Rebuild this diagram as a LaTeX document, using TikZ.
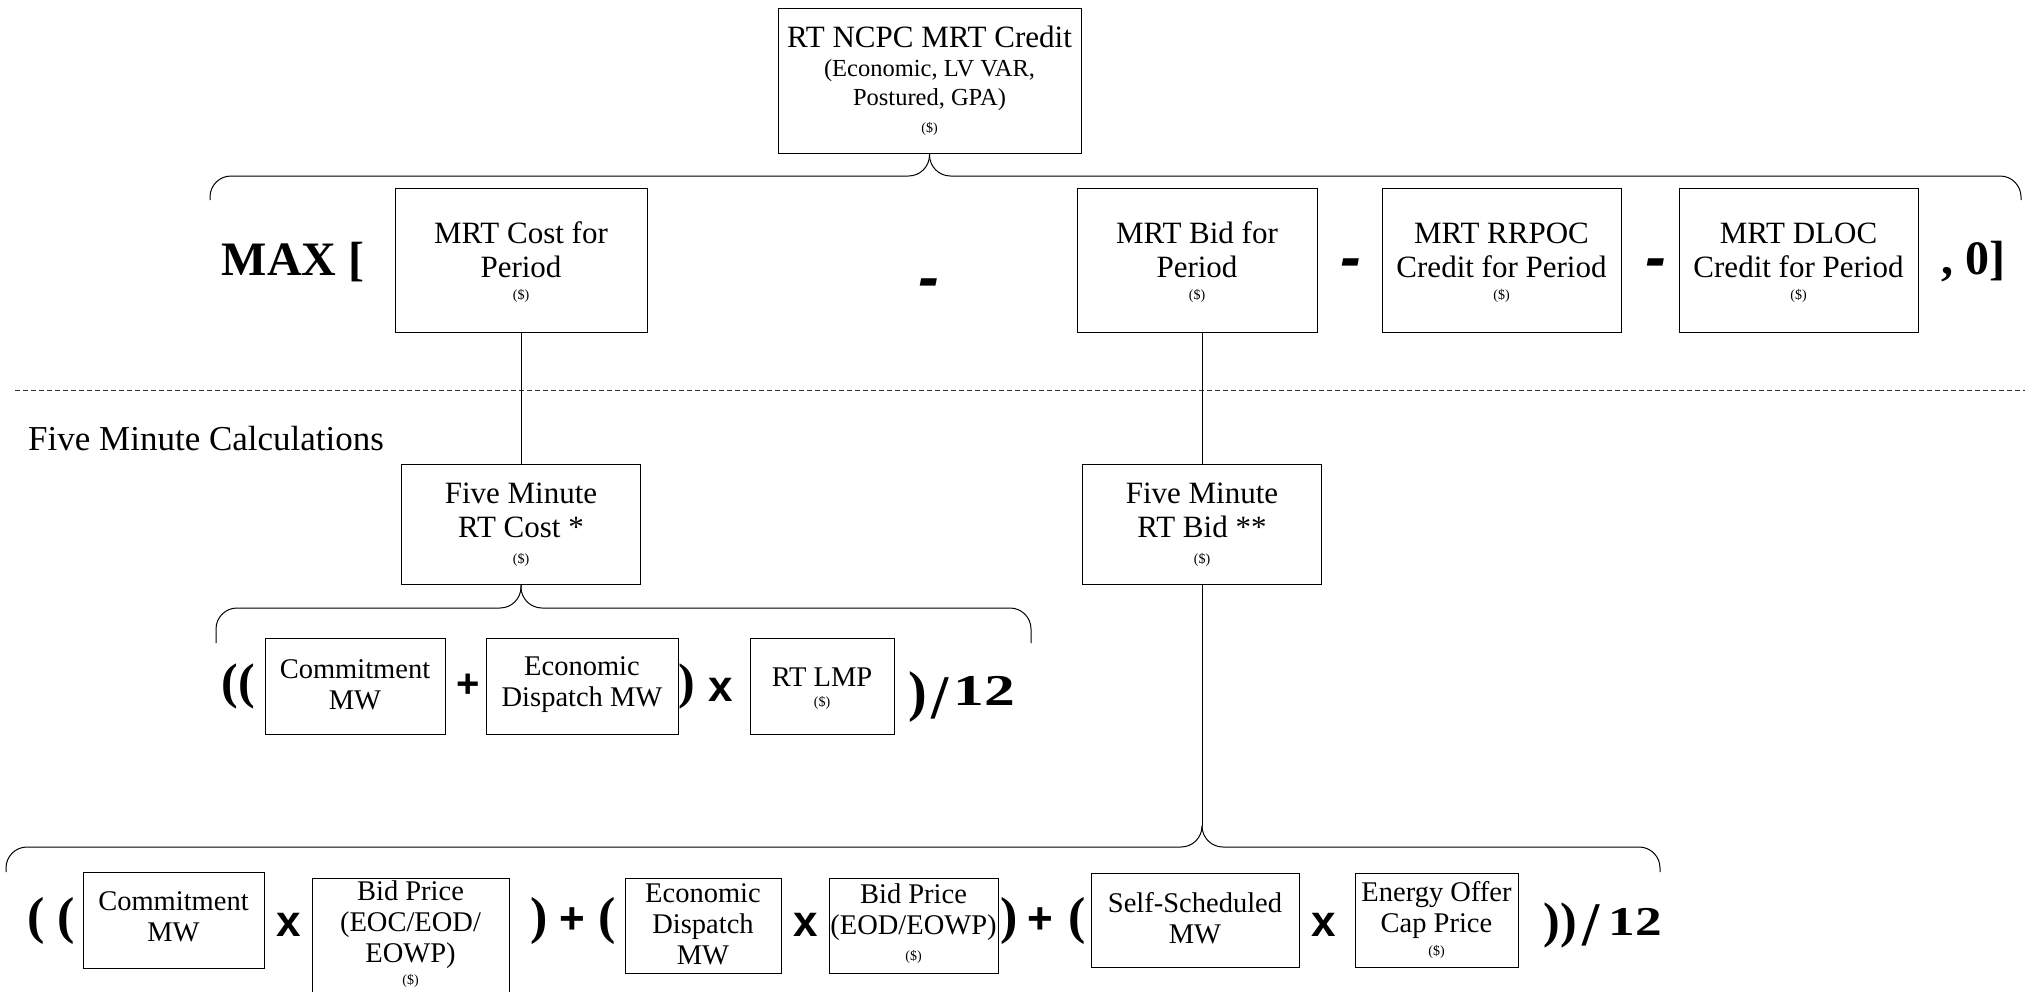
\documentclass[tikz,border=0pt]{standalone}
\usepackage{fontspec}
\setmainfont{Liberation Serif}
\newfontfamily\opsansfam{Liberation Sans}
\usetikzlibrary{calc}
\newcommand{\fsz}[2]{\fontsize{#1}{#2}\selectfont}
\newcommand{\opsans}{\opsansfam\bfseries}
% a large slash lowered below the baseline, followed by widened digits
\newcommand{\divtwelve}[3]{\raisebox{-#1pt}{\fsz{62}{62}/}\kern#2pt\scalebox{#3}[1]{12}}
\begin{document}
\begin{tikzpicture}[x=1pt,y=-1pt,
  cell/.style={draw=black, line width=1pt, inner sep=0pt, minimum width=#1},
  cell/.default=200pt,
  headtxt/.style={align=center, inner sep=0pt, font=\fsz{31}{34}},
  txt/.style={align=center, inner sep=0pt, font=\fsz{28.5}{31}},
  usd/.style={inner sep=0pt, font=\fsz{14}{15}},
  paren/.style={inner sep=0pt, font=\bfseries\fsz{#1}{#1}},
  paren/.default=48,
  opsym/.style={inner sep=0pt, font=\opsans\fsz{#1}{#1}},
  opsym/.default=44,
  minussym/.style={inner sep=0pt, font=\opsans\itshape\fsz{62}{62}},
  brace/.style={line width=1pt, rounded corners=21pt},
  link/.style={line width=1pt},
  divider/.style={line width=0.8pt, black!80, dash pattern=on 5pt off 3pt},
  ]
\useasboundingbox (0,0) rectangle (2025,991);
\clip (0,0) rectangle (2025,991);

% ---------- credit at the top ----------
\node[cell=303, minimum height=145] (credit) at (929.5,80.5) {};
\node[headtxt] at (929.5,37) {RT NCPC MRT Credit};
\node[txt, font=\fsz{24.5}{28.5}] at (929.5,85) {(Economic, LV VAR,\\Postured, GPA)};
\node[usd] at (929.5,129) {(\$)};

% ---------- period formula ----------
\node[paren=48] (maxop) at (293,262) {MAX [};
\node[cell=252, minimum height=144] (cost) at (521,260) {};
\node[headtxt] at (521,250) {MRT Cost for\\Period};
\node[usd] at (521,296) {(\$)};

\node[minussym] (minusA) at (929,289) {-};

\node[cell=240, minimum height=144] (bid) at (1197,260) {};
\node[headtxt] at (1197,250) {MRT Bid for\\Period};
\node[usd] at (1197,296) {(\$)};

\node[minussym] (minusB) at (1351,269) {-};

\node[cell=239, minimum height=144] (rrpoc) at (1501.5,260) {};
\node[headtxt] at (1501.5,250) {MRT RRPOC\\Credit for Period};
\node[usd] at (1501.5,296) {(\$)};

\node[minussym] (minusC) at (1656,269) {-};

\node[cell=239, minimum height=144] (dloc) at (1798.5,260) {};
\node[headtxt] at (1798.5,250) {MRT DLOC\\Credit for Period};
\node[usd] at (1798.5,296) {(\$)};

\node[paren=48] (zeroop) at (1973,262) {, 0]};

% brace joining the credit to the period formula
\draw[brace] (210,200) |- (credit.south |- 0,176) -- (credit.south);
\draw[brace] (2021,200) |- (credit.south |- 0,176) -- (credit.south);

% ---------- five minute section ----------
\draw[divider] (15,390) -- (2025,390);
\node[anchor=west, inner sep=0pt, font=\fsz{35}{38}] (fmlabel) at (28,439) {Five Minute Calculations};

\node[cell=239, minimum height=120] (fmcost) at (521,524) {};
\node[headtxt] at (521,510) {Five Minute\\RT Cost *};
\node[usd] at (521,560) {(\$)};

\node[cell=239, minimum height=120] (fmbid) at (1202,524) {};
\node[headtxt] at (1202,510) {Five Minute\\RT Bid **};
\node[usd] at (1202,560) {(\$)};

\draw[link] (cost.south) -- (fmcost.north);
\draw[link] (fmbid.north) -- (fmbid.north |- bid.south);

% ---------- five minute cost formula ----------
\node[paren=50] (cpA) at (238,686) {((};
\node[cell=180, minimum height=96] (cmw) at (355,686) {};
\node[txt] at (355,685) {Commitment\\MW};
\node[opsym=40] (cplus) at (468,686) {+};
\node[cell=192, minimum height=96] (cedmw) at (582,686) {};
\node[txt] at (582,685) {Economic\\Dispatch MW};
\node[paren=50] (cpB) at (687,686) {)};
\node[opsym=44] (ctimes) at (721,690) {x};
\node[cell=144, minimum height=96] (lmp) at (822,686) {};
\node[txt] at (822,677) {RT LMP};
\node[usd] at (822,703) {(\$)};
\node[paren=56] (cpC) at (918,697) {)};
\node[paren=44, anchor=base west] (cdiv) at (931,705) {\divtwelve{13}{5}{1.4}};

\draw[brace] (216,643) |- (fmcost.south |- 0,608) -- (fmcost.south);
\draw[brace] (1031,643) |- (fmcost.south |- 0,608) -- (fmcost.south);

% ---------- five minute bid formula ----------
\coordinate (bidtip) at (1202,826);
\draw[link] (fmbid.south) -- (bidtip);
\draw[brace] (6,872) |- (bidtip |- 0,847) -- (bidtip);
\draw[brace] (1660,872) |- (bidtip |- 0,847) -- (bidtip);

\node[paren=52] (bpA) at (51,921) {( (};
\node[cell=181, minimum height=96] (bcmw) at (173.5,920) {};
\node[txt] at (173.5,917) {Commitment\\MW};
\node[opsym=44] (btA) at (289,925) {x};
\node[cell=197, minimum height=124] (bpeoc) at (410.5,940) {};
\node[txt] at (410.5,925) {Bid Price\\(EOC/EOD/\\EOWP)};
\node[usd] at (410.5,981) {(\$)};
\node[paren=52] (bpB) at (539,921) {)};
\node[opsym=44] (bplA) at (572,921) {+};
\node[paren=52] (bpC) at (607,921) {(};
\node[cell=156, minimum height=95] (bedmw) at (703,925.5) {};
\node[txt] at (703,924) {Economic\\Dispatch\\MW};
\node[opsym=44] (btB) at (806,925) {x};
\node[cell=169, minimum height=95] (bpeod) at (913.5,925.5) {};
\node[txt] at (913.5,912.5) {Bid Price\\(EOD/EOWP)};
\node[usd] at (913.5,957) {(\$)};
\node[paren=52] (bpD) at (1009,921) {)};
\node[opsym=44] (bplB) at (1040,921) {+};
\node[paren=52] (bpE) at (1077,921) {(};
\node[cell=208, minimum height=94] (bssmw) at (1195,920) {};
\node[txt] at (1195,918.5) {Self-Scheduled\\MW};
\node[opsym=44] (btC) at (1324,925) {x};
\node[cell=163, minimum height=94] (beocp) at (1436.5,920) {};
\node[txt] at (1436.5,909.5) {Energy Offer\\Cap Price};
\node[usd] at (1436.5,952) {(\$)};
\node[paren=50] (bpF) at (1560,925) {))};
\node[paren=41, anchor=base west] (bdiv) at (1582,935) {\divtwelve{10}{9}{1.3}};
\end{tikzpicture}
\end{document}
